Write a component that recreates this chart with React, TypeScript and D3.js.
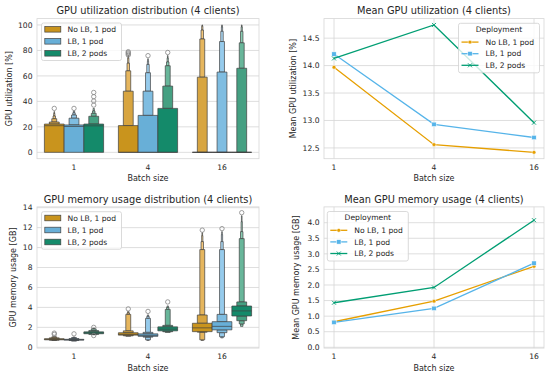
import * as d3 from "d3";

const batchSizes = ["1", "4", "16"];
const deployments = ["No LB, 1 pod", "LB, 1 pod", "LB, 2 pods"];
const boxColors = ["#c9941d", "#68afd7", "#148a6a"];
const lineColors = ["#e69f00", "#56b4e9", "#009e73"];

// letter values per batch size
// low: q25, q12.5, q6.25, ...  high: q75, q87.5, q93.75, ...
const utilLowNoLb = [[0], [0], [0]];
const utilHighNoLb = [
  [22.2, 23.8, 26.4, 28.5, 30.5, 32],
  [21, 48, 64, 70, 74, 76],
  [0, 59, 89, 96, 99, 100],
];
const utilMedNoLb = [20.9, 0, 0];
const utilFliersNoLb = [[34.5], [76.4, 77.3, 78.2, 79], []];

const utilLowLb1 = [[0], [0], [0]];
const utilHighLb1 = [
  [21.5, 26.8, 29.3, 31, 32.5],
  [29, 48, 62.5, 69, 71.5, 73.5],
  [0, 63, 87, 95, 98.5, 100],
];
const utilMedLb1 = [20.3, 0, 0];
const utilFliersLb1 = [[34.5], [75.9], []];

const utilLowLb2 = [[0], [0], [0]];
const utilHighLb2 = [
  [22.2, 28.3, 30.6, 32.5, 34.5],
  [34.5, 52, 68, 71, 74, 76],
  [0, 66, 86, 95, 98.5, 100],
];
const utilMedLb2 = [20.8, 0, 0];
const utilFliersLb2 = [[37.1, 40.3, 43.7, 47], [78.4], []];

const memLowNoLb = [[0.75, 0.72, 0.7], [1.22, 1.15, 1.12], [1.57, 1.52, 0.75, 0.7]];
const memHighNoLb = [
  [0.86, 0.95, 1.05, 1.12],
  [1.46, 1.65, 3.3, 3.45, 3.6],
  [2.41, 3.24, 9.8, 10.6, 11.2, 11.5],
];
const memMedNoLb = [0.8, 1.3, 1.95];
const memFliersNoLb = [[1.3, 1.42], [3.85], [11.75]];

const memLowLb1 = [[0.72, 0.68, 0.62], [1.1, 1.02, 0.75, 0.7], [1.75, 1.47, 1.06, 0.95]];
const memHighLb1 = [
  [0.8, 0.88, 0.98, 1.03],
  [1.35, 1.5, 2.9, 3.1, 3.25],
  [2.57, 3.3, 9.8, 10.6, 11.3, 11.6],
];
const memMedLb1 = [0.76, 1.2, 2.1];
const memFliersLb1 = [[1.35], [3.6], [11.9]];

const memLowLb2 = [[1.36, 1.3, 1.26], [1.65, 1.56, 1.5], [3.14, 2.67, 2.34, 2.1]];
const memHighLb2 = [
  [1.55, 1.68, 1.85, 1.92],
  [2.05, 2.2, 3.8, 4.0, 4.15],
  [4.14, 4.55, 10.9, 11.6, 12.6, 13.2],
];
const memMedLb2 = [1.45, 1.82, 3.65];
const memFliersLb2 = [[1.18, 2.0], [4.55], [13.5]];

// means
const meanUtilNoLb = [13.97, 12.56, 12.42];
const meanUtilLb1 = [14.21, 12.93, 12.69];
const meanUtilLb2 = [14.13, 14.74, 12.96];
const meanMemNoLb = [0.82, 1.48, 2.6];
const meanMemLb1 = [0.8, 1.25, 2.7];
const meanMemLb2 = [1.43, 1.92, 4.08];

const utilTicks = [0, 20, 40, 60, 80, 100];
const memTicks = [0, 2, 4, 6, 8, 10, 12, 14];
const meanUtilTicks = [12.5, 13.0, 13.5, 14.0, 14.5];
const meanMemTicks = [0, 0.5, 1, 1.5, 2, 2.5, 3, 3.5, 4];

type Group = { low: number[][]; high: number[][]; med: number[]; fliers: number[][] };
type Frame = { left: number; right: number; top: number; bottom: number };

const utilGroups: Group[] = [
  { low: utilLowNoLb, high: utilHighNoLb, med: utilMedNoLb, fliers: utilFliersNoLb },
  { low: utilLowLb1, high: utilHighLb1, med: utilMedLb1, fliers: utilFliersLb1 },
  { low: utilLowLb2, high: utilHighLb2, med: utilMedLb2, fliers: utilFliersLb2 },
];
const memGroups: Group[] = [
  { low: memLowNoLb, high: memHighNoLb, med: memMedNoLb, fliers: memFliersNoLb },
  { low: memLowLb1, high: memHighLb1, med: memMedLb1, fliers: memFliersLb1 },
  { low: memLowLb2, high: memHighLb2, med: memMedLb2, fliers: memFliersLb2 },
];

const ink = "#262626";
const gridColor = "#d6d6d6";
const edge = "#404040";
const titleSize = 9.8;
const labelSize = 8;
const tickSize = 7.6;

// outer letter-value boxes get lighter
function lighten(c: string, step: number) {
  const base = d3.hcl(c);
  const light = d3.hcl(base.h, base.c * 0.5, 95);
  return d3.interpolateHcl(base, light)(Math.min(1, step * 0.2));
}

function Axes({ frame, title, yLabel, yLabelX }: { frame: Frame; title: string; yLabel: string; yLabelX: number }) {
  const cy = (frame.top + frame.bottom) / 2;
  const cx = (frame.left + frame.right) / 2;
  return (
    <g fill={ink}>
      <text x={cx} y={frame.top - 4.2} textAnchor="middle" fontSize={titleSize}>
        {title}
      </text>
      <text x={cx} y={frame.bottom + 22.7} textAnchor="middle" fontSize={labelSize}>
        Batch size
      </text>
      <text
        transform={`translate(${yLabelX},${cy}) rotate(-90)`}
        dy="0.35em"
        textAnchor="middle"
        fontSize={labelSize}
      >
        {yLabel}
      </text>
    </g>
  );
}

function BoxenPanel(props: {
  frame: Frame;
  title: string;
  yLabel: string;
  yLabelX: number;
  domain: [number, number];
  ticks: number[];
  groups: Group[];
  legend: { x: number; y: number };
}) {
  const { frame, domain, ticks, groups, legend } = props;
  const x = d3
    .scaleBand()
    .domain(batchSizes)
    .range([frame.left, frame.right])
    .paddingInner(0.2)
    .paddingOuter(0.1);
  const hue = d3.scaleBand().domain(deployments).range([0, x.bandwidth()]);
  const y = d3.scaleLinear().domain(domain).range([frame.bottom, frame.top]);
  const hw = hue.bandwidth();

  const boxes: JSX.Element[] = [];
  groups.forEach((g, di) => {
    batchSizes.forEach((b, bi) => {
      const cx = (x(b) as number) + (hue(deployments[di]) as number) + hw / 2;
      const low = g.low[bi];
      const high = g.high[bi];
      const segs: { lo: number; hi: number; level: number }[] = [];
      segs.push({ lo: low[0], hi: high[0], level: 0 });
      for (let i = 1; i < high.length; i++) segs.push({ lo: high[i - 1], hi: high[i], level: i });
      for (let i = 1; i < low.length; i++) segs.push({ lo: low[i], hi: low[i - 1], level: i });
      segs
        .sort((a, c) => c.level - a.level)
        .forEach((s, si) => {
          const w = hw * Math.pow(2, -s.level);
          const x0 = cx - w / 2;
          const x1 = cx + w / 2;
          const y0 = y(s.lo);
          const y1 = y(s.hi);
          boxes.push(
            <path
              key={`b${di}-${bi}-${si}`}
              d={`M${x0},${y0}H${x1}V${y1}H${x0}Z`}
              fill={lighten(boxColors[di], s.level)}
              stroke={edge}
              strokeWidth={0.7}
            />
          );
        });
      boxes.push(
        <line
          key={`m${di}-${bi}`}
          x1={cx - hw / 2}
          x2={cx + hw / 2}
          y1={y(g.med[bi])}
          y2={y(g.med[bi])}
          stroke={edge}
          strokeWidth={0.7}
        />
      );
      g.fliers[bi].forEach((f, fi) => {
        boxes.push(
          <circle key={`f${di}-${bi}-${fi}`} cx={cx} cy={y(f)} r={2.2} fill="none" stroke="#858585" strokeWidth={0.8} />
        );
      });
    });
  });

  return (
    <g>
      <rect x={frame.left} y={frame.top} width={frame.right - frame.left} height={frame.bottom - frame.top} fill="#fff" />
      {ticks.map((t) => (
        <g key={t}>
          <line x1={frame.left} x2={frame.right} y1={y(t)} y2={y(t)} stroke={gridColor} strokeWidth={0.8} />
          <text x={frame.left - 4.5} y={y(t)} dy="0.35em" textAnchor="end" fontSize={tickSize} fill={ink}>
            {t}
          </text>
        </g>
      ))}
      {batchSizes.map((b) => (
        <text
          key={b}
          x={(x(b) as number) + x.bandwidth() / 2}
          y={frame.bottom + 11.3}
          textAnchor="middle"
          fontSize={tickSize}
          fill={ink}
        >
          {b}
        </text>
      ))}
      {boxes}
      <rect
        x={frame.left}
        y={frame.top}
        width={frame.right - frame.left}
        height={frame.bottom - frame.top}
        fill="none"
        stroke={gridColor}
        strokeWidth={0.8}
      />
      <g transform={`translate(${legend.x},${legend.y})`}>
        <rect x={0} y={0} width={80} height={37.5} rx={2} fill="#fff" fillOpacity={0.8} stroke="#d0d0d0" strokeWidth={0.8} />
        {deployments.map((d, i) => (
          <g key={d} transform={`translate(0,${6.3 + i * 12})`}>
            <rect x={3.3} y={-2.8} width={16} height={5.6} fill={boxColors[i]} stroke={edge} strokeWidth={0.7} />
            <text x={26} y={0} dy="0.35em" fontSize={tickSize} fill={ink}>
              {d}
            </text>
          </g>
        ))}
      </g>
      <Axes frame={frame} title={props.title} yLabel={props.yLabel} yLabelX={props.yLabelX} />
    </g>
  );
}

function Marker({ kind, x, y, color }: { kind: number; x: number; y: number; color: string }) {
  if (kind === 0) return <circle cx={x} cy={y} r={1.9} fill={color} stroke="#fff" strokeWidth={0.5} />;
  if (kind === 1)
    return <rect x={x - 2.2} y={y - 2.2} width={4.4} height={4.4} fill={color} stroke="#fff" strokeWidth={0.5} />;
  return (
    <path d={`M${x - 2},${y - 2}L${x + 2},${y + 2}M${x - 2},${y + 2}L${x + 2},${y - 2}`} stroke={color} strokeWidth={0.9} />
  );
}

function LinePanel(props: {
  frame: Frame;
  title: string;
  yLabel: string;
  yLabelX: number;
  domain: [number, number];
  ticks: number[];
  series: number[][];
  tickFmt: (v: number) => string;
  legend: { x: number; y: number };
}) {
  const { frame, domain, ticks, series, legend } = props;
  const x = d3.scalePoint().domain(batchSizes).range([frame.left, frame.right]).padding(0.1);
  const y = d3.scaleLinear().domain(domain).range([frame.bottom, frame.top]);
  const line = d3
    .line<number>()
    .x((_, i) => x(batchSizes[i]) as number)
    .y((v) => y(v));

  return (
    <g>
      <rect x={frame.left} y={frame.top} width={frame.right - frame.left} height={frame.bottom - frame.top} fill="#fff" />
      {ticks.map((t) => (
        <g key={t}>
          <line x1={frame.left} x2={frame.right} y1={y(t)} y2={y(t)} stroke={gridColor} strokeWidth={0.8} />
          <text x={frame.left - 4.5} y={y(t)} dy="0.35em" textAnchor="end" fontSize={tickSize} fill={ink}>
            {props.tickFmt(t)}
          </text>
        </g>
      ))}
      {batchSizes.map((b) => (
        <g key={b}>
          <line x1={x(b)} x2={x(b)} y1={frame.top} y2={frame.bottom} stroke={gridColor} strokeWidth={0.8} />
          <text x={x(b)} y={frame.bottom + 11.3} textAnchor="middle" fontSize={tickSize} fill={ink}>
            {b}
          </text>
        </g>
      ))}
      <rect
        x={frame.left}
        y={frame.top}
        width={frame.right - frame.left}
        height={frame.bottom - frame.top}
        fill="none"
        stroke={gridColor}
        strokeWidth={0.8}
      />
      {series.map((s, i) => (
        <g key={i}>
          <path d={line(s) as string} fill="none" stroke={lineColors[i]} strokeWidth={1.3} />
          {s.map((v, j) => (
            <Marker key={j} kind={i} x={x(batchSizes[j]) as number} y={y(v)} color={lineColors[i]} />
          ))}
        </g>
      ))}
      <g transform={`translate(${legend.x},${legend.y})`}>
        <rect x={0} y={0} width={81} height={49.5} rx={2} fill="#fff" fillOpacity={0.8} stroke="#d0d0d0" strokeWidth={0.8} />
        <text x={40.5} y={6.3} dy="0.35em" textAnchor="middle" fontSize={tickSize} fill={ink}>
          Deployment
        </text>
        {deployments.map((d, i) => (
          <g key={d} transform={`translate(0,${18.8 + i * 11.6})`}>
            <line x1={3} x2={20} y1={0} y2={0} stroke={lineColors[i]} strokeWidth={1.3} />
            <Marker kind={i} x={11.5} y={0} color={lineColors[i]} />
            <text x={27} y={0} dy="0.35em" fontSize={tickSize} fill={ink}>
              {d}
            </text>
          </g>
        ))}
      </g>
      <Axes frame={frame} title={props.title} yLabel={props.yLabel} yLabelX={props.yLabelX} />
    </g>
  );
}

export default function App() {
  const top = 18.6;
  const bottom = 158.7;
  const top2 = 206.9;
  const bottom2 = 348.1;
  return (
    <svg
      width={550}
      height={375}
      style={{ position: "absolute", left: 0, top: 0, background: "#fff" }}
      fontFamily="DejaVu Sans, sans-serif"
    >
      <BoxenPanel
        frame={{ left: 37, right: 259, top, bottom }}
        title="GPU utilization distribution (4 clients)"
        yLabel="GPU utilization [%]"
        yLabelX={9}
        domain={[-5, 105]}
        ticks={utilTicks}
        groups={utilGroups}
        legend={{ x: 41.5, y: 23 }}
      />
      <LinePanel
        frame={{ left: 324, right: 544, top, bottom }}
        title="Mean GPU utilization (4 clients)"
        yLabel="Mean GPU utilization [%]"
        yLabelX={293.3}
        domain={[12.304, 14.856]}
        ticks={meanUtilTicks}
        series={[meanUtilNoLb, meanUtilLb1, meanUtilLb2]}
        tickFmt={(v) => v.toFixed(1)}
        legend={{ x: 458.5, y: 23.3 }}
      />
      <BoxenPanel
        frame={{ left: 37, right: 259, top: top2, bottom: bottom2 }}
        title="GPU memory usage distribution (4 clients)"
        yLabel="GPU memory usage [GB]"
        yLabelX={13.3}
        domain={[-0.08, 14.08]}
        ticks={memTicks}
        groups={memGroups}
        legend={{ x: 41.5, y: 211.7 }}
      />
      <LinePanel
        frame={{ left: 324, right: 544, top: top2, bottom: bottom2 }}
        title="Mean GPU memory usage (4 clients)"
        yLabel="Mean GPU memory usage [GB]"
        yLabelX={295.7}
        domain={[-0.026, 4.507]}
        ticks={meanMemTicks}
        series={[meanMemNoLb, meanMemLb1, meanMemLb2]}
        tickFmt={(v) => v.toFixed(1)}
        legend={{ x: 327.3, y: 211.5 }}
      />
    </svg>
  );
}
